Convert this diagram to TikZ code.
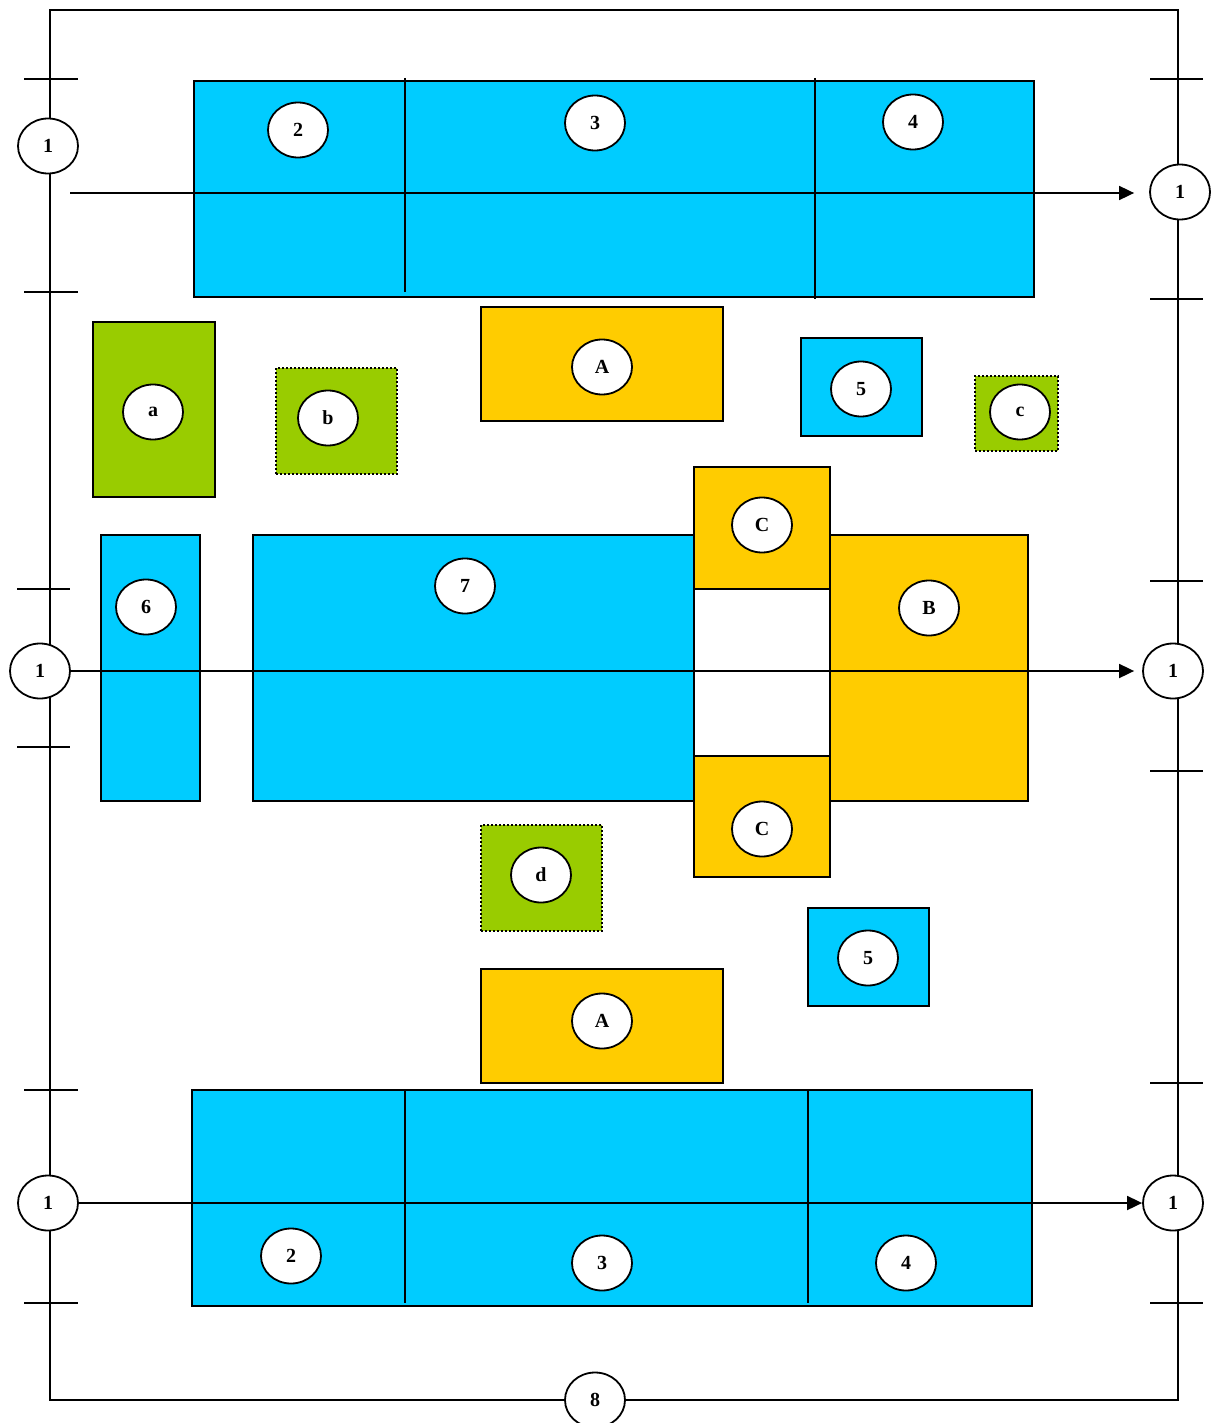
\documentclass[tikz,border=0pt]{standalone}
\usepackage{fontspec}
\setmainfont{Liberation Serif}
\usetikzlibrary{arrows.meta,positioning,shapes.geometric,fit}
\definecolor{sky}{HTML}{00CCFF}
\definecolor{gold}{HTML}{FFCC00}
\definecolor{lime}{HTML}{99CC00}
\tikzset{
  zone/.style={rectangle, draw=black, fill=#1, line width=1pt, inner sep=0pt},
  zone/.default=sky,
  dotzone/.style={rectangle, draw=black, fill=lime, densely dotted,
    line width=1pt, inner sep=0pt},
  tag/.style={ellipse, draw=black, fill=white, line width=0.9pt,
    minimum width=30pt, minimum height=27.5pt, inner sep=0pt,
    font=\bfseries\fontsize{10}{12}\selectfont},
  edgeline/.style={line width=1pt},
  tickmark/.style={line width=1pt},
  flow/.style={-{Triangle[length=7.5pt,width=7pt]}, line width=0.9pt},
}
\begin{document}
\begin{tikzpicture}[x=0.5pt, y=-0.5pt]
\useasboundingbox (0,0) rectangle (1212,1423);

% outer frame and ticks
\draw[edgeline] (50,10) rectangle (1178,1400);
\foreach \y in {79,292,1090,1303} \draw[tickmark] (24,\y) -- (78,\y);
\foreach \y in {589,747} \draw[tickmark] (17,\y) -- (70,\y);
\foreach \y in {79,299,581,771,1083,1303} \draw[tickmark] (1150,\y) -- (1203,\y);

% zones
\node[zone, fit={(194,81) (1034,297)}] (top) {};
\node[zone=gold, fit={(481,307) (723,421)}] (ua) {};
\node[zone, fit={(801,338) (922,436)}] (u5) {};
\node[zone=lime, fit={(93,322) (215,497)}] (ga) {};
\node[dotzone, fit={(276,368) (397,474)}] (gb) {};
\node[dotzone, fit={(975,376) (1058,451)}] (gc) {};
\node[zone, fit={(101,535) (200,801)}] (z6) {};
\node[zone, fit={(253,535) (694,801)}] (z7) {};
\node[zone=white, fit={(694,589) (830,756)}] (gap) {};
\node[zone=gold, fit={(694,467) (830,589)}] (uc) {};
\node[zone=gold, fit={(694,756) (830,877)}] (lc) {};
\node[zone=gold, fit={(830,535) (1028,801)}] (zb) {};
\node[dotzone, fit={(481,825) (602,931)}] (gd) {};
\node[zone, fit={(808,908) (929,1006)}] (l5) {};
\node[zone=gold, fit={(481,969) (723,1083)}] (la) {};
\node[zone, fit={(192,1090) (1032,1306)}] (bot) {};

% dividers
\draw[edgeline] (405,78) -- (405,292);
\draw[edgeline] (815,78) -- (815,299);
\draw[edgeline] (405,1090) -- (405,1303);
\draw[edgeline] (808,1090) -- (808,1303);

% side tags
\node[tag] (l1) at (48,146) {1};
\node[tag] (r1) at (1180,192) {1};
\node[tag] (l2) at (40,671) {1};
\node[tag] (r2) at (1173,671) {1};
\node[tag] (l3) at (48,1203) {1};
\node[tag] (r3) at (1173,1203) {1};
\node[tag] (n8) at (595,1400) {8};

% flows
\coordinate (s1) at (70,193);
\draw[flow, shorten >=7.5pt] (s1) -- (s1 -| r1.west);
\draw[flow, shorten >=4pt] (l2) -- (r2);
\draw[flow] (l3) -- (r3);

% zone tags
\node[tag] (t2) at (298,130) {2};
\node[tag] (t3) at (595,123) {3};
\node[tag] (t4) at (913,122) {4};
\node[tag] (ta) at (602,367) {A};
\node[tag] (t5) at (861,389) {5};
\node[tag] (tga) at (153,412) {a};
\node[tag] (tgb) at (328,418) {b};
\node[tag] (tgc) at (1020,412) {c};
\node[tag] (t6) at (146,607) {6};
\node[tag] (t7) at (465,586) {7};
\node[tag] (tc1) at (762,525) {C};
\node[tag] (tb) at (929,608) {B};
\node[tag] (tc2) at (762,829) {C};
\node[tag] (tgd) at (541,875) {d};
\node[tag] (t5b) at (868,958) {5};
\node[tag] (tab) at (602,1021) {A};
\node[tag] (b2) at (291,1256) {2};
\node[tag] (b3) at (602,1263) {3};
\node[tag] (b4) at (906,1263) {4};
\end{tikzpicture}
\end{document}
